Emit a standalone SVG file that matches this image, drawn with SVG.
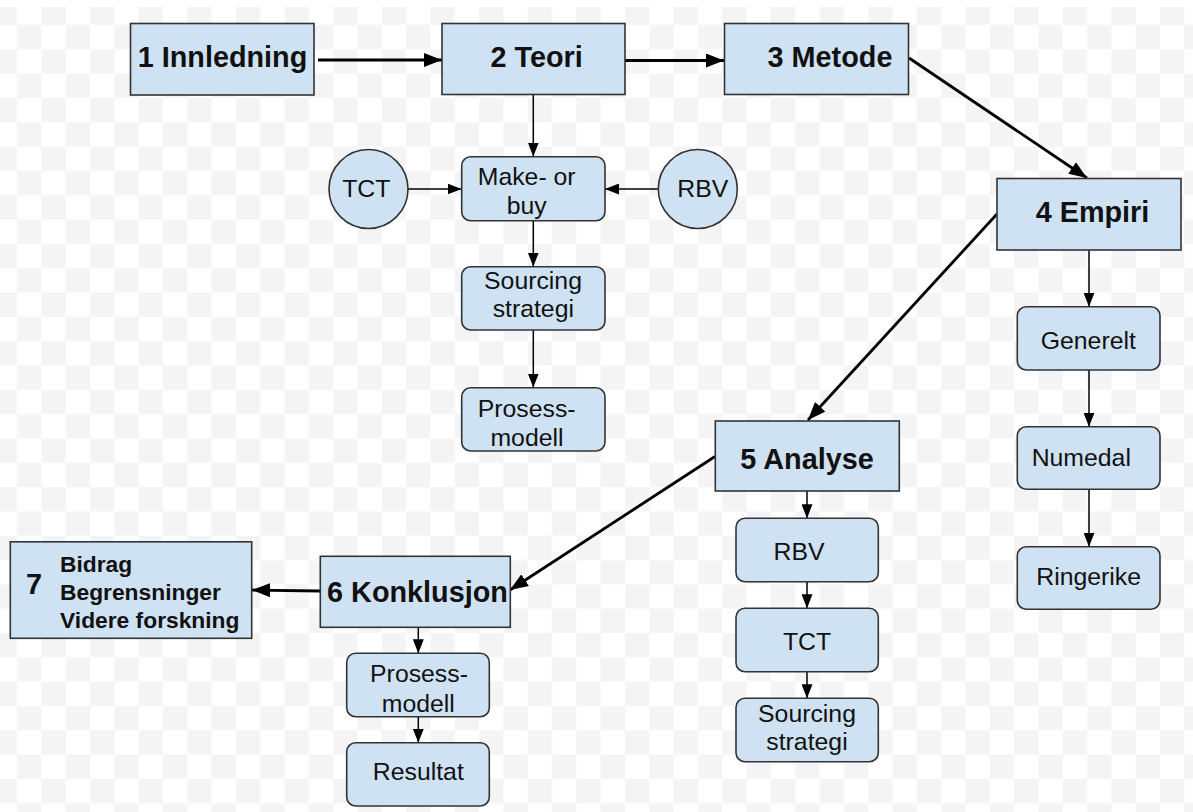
<svg xmlns="http://www.w3.org/2000/svg" width="1193" height="812" viewBox="0 0 1193 812">
  <defs>
    <pattern id="checker" x="-7.32" y="0.68" width="48.64" height="48.64" patternUnits="userSpaceOnUse">
      <rect width="48.64" height="48.64" fill="#ffffff"/>
      <rect width="24.32" height="24.32" fill="#f4f4f4"/>
      <rect x="24.32" y="24.32" width="24.32" height="24.32" fill="#f4f4f4"/>
    </pattern>
    <marker id="headBig" viewBox="0 0 18 14" refX="18" refY="7" markerWidth="18" markerHeight="14" markerUnits="userSpaceOnUse" orient="auto">
      <path d="M0,0 L18,7 L0,14 Z" fill="#000"/>
    </marker>
    <marker id="headSmall" viewBox="0 0 14 11" refX="14" refY="5.5" markerWidth="14" markerHeight="11" markerUnits="userSpaceOnUse" orient="auto">
      <path d="M0,0 L14,5.5 L0,11 Z" fill="#000"/>
    </marker>
  </defs>
  <style>
    .box { fill: #cfe2f3; stroke: #333; stroke-width: 1.6; }
    .sub { fill: #cfe2f3; stroke: #333; stroke-width: 1.6; }
    .main { font-family: "Liberation Sans", Arial, sans-serif; font-weight: bold; font-size: 28.8px; fill: #111; text-anchor: middle; }
    .lbl { font-family: "Liberation Sans", Arial, sans-serif; font-size: 24.8px; fill: #111; text-anchor: middle; }
    .b7 { font-family: "Liberation Sans", Arial, sans-serif; font-weight: bold; font-size: 22.8px; fill: #111; }
    .thick { stroke: #000; stroke-width: 2.8; fill: none; marker-end: url(#headBig); }
    .thin { stroke: #000; stroke-width: 1.5; fill: none; marker-end: url(#headSmall); }
  </style>

  <!-- background -->
  <rect width="1193" height="812" fill="url(#checker)"/>
  <rect width="1193" height="7" fill="#ffffff"/>

  <!-- connectors -->
  <g id="connectors">
    <line class="thick" x1="318" y1="60" x2="442" y2="60"/>
    <line class="thick" x1="624" y1="60.5" x2="724" y2="60.5"/>
    <line class="thick" x1="909" y1="58" x2="1087" y2="178"/>
    <line class="thick" x1="997" y1="214" x2="808" y2="420"/>
    <line class="thick" x1="715" y1="456.5" x2="510" y2="590"/>
    <line class="thick" x1="320" y1="591" x2="252" y2="590"/>

    <line class="thin" x1="533.3" y1="94" x2="533.3" y2="156.5"/>
    <line class="thin" x1="408" y1="189" x2="461.5" y2="189"/>
    <line class="thin" x1="658" y1="189" x2="605" y2="189"/>
    <line class="thin" x1="533.3" y1="220.7" x2="533.3" y2="266.5"/>
    <line class="thin" x1="533.3" y1="330" x2="533.3" y2="387.5"/>

    <line class="thin" x1="1089" y1="250" x2="1089" y2="306.7"/>
    <line class="thin" x1="1089" y1="370" x2="1089" y2="426.7"/>
    <line class="thin" x1="1089" y1="489.3" x2="1089" y2="546.7"/>

    <line class="thin" x1="807" y1="491" x2="807" y2="518.3"/>
    <line class="thin" x1="807" y1="581.7" x2="807" y2="608.3"/>
    <line class="thin" x1="807" y1="671.7" x2="807" y2="698.3"/>

    <line class="thin" x1="418.3" y1="627.3" x2="418.3" y2="653.3"/>
    <line class="thin" x1="418.3" y1="716.7" x2="418.3" y2="742.7"/>
  </g>

  <!-- chapter nodes -->
  <g id="innledning">
    <rect class="box" x="130.5" y="23.5" width="183.5" height="71.5"/>
    <text class="main" x="222.5" y="67">1 Innledning</text>
  </g>
  <g id="teori">
    <rect class="box" x="442" y="23.5" width="183" height="71"/>
    <text class="main" x="536.7" y="67">2 Teori</text>
  </g>
  <g id="metode">
    <rect class="box" x="724.5" y="23.5" width="184" height="71"/>
    <text class="main" x="830" y="67">3 Metode</text>
  </g>
  <g id="empiri">
    <rect class="box" x="997" y="178.5" width="184" height="71.5"/>
    <text class="main" x="1092.5" y="222">4 Empiri</text>
  </g>
  <g id="analyse">
    <rect class="box" x="715.3" y="421" width="184" height="70"/>
    <text class="main" x="807" y="468.5">5 Analyse</text>
  </g>
  <g id="konklusjon">
    <rect class="box" x="320.3" y="556.3" width="190" height="71"/>
    <text class="main" x="417.5" y="602">6 Konklusjon</text>
  </g>
  <g id="bidrag">
    <rect class="box" x="10.3" y="541.8" width="241.4" height="96.5"/>
    <text class="main" x="34" y="593.5">7</text>
    <text class="b7" x="60" y="572">Bidrag</text>
    <text class="b7" x="60" y="600">Begrensninger</text>
    <text class="b7" x="60" y="628.3">Videre forskning</text>
  </g>

  <!-- theory sub-nodes -->
  <g id="tct-circle">
    <circle class="sub" cx="368.5" cy="189" r="39.5"/>
    <text class="lbl" x="366.3" y="197">TCT</text>
  </g>
  <g id="rbv-circle">
    <circle class="sub" cx="697.8" cy="189" r="39.5"/>
    <text class="lbl" x="702.8" y="197">RBV</text>
  </g>
  <g id="make-or-buy">
    <rect class="sub" x="461.7" y="156.7" width="143.3" height="64" rx="9"/>
    <text class="lbl" x="526.7" y="185">Make- or</text>
    <text class="lbl" x="526.7" y="214">buy</text>
  </g>
  <g id="sourcing-teori">
    <rect class="sub" x="461.7" y="266.7" width="143.3" height="63.3" rx="9"/>
    <text class="lbl" x="533" y="288.5">Sourcing</text>
    <text class="lbl" x="533.3" y="317">strategi</text>
  </g>
  <g id="prosess-teori">
    <rect class="sub" x="461.7" y="387.7" width="143.3" height="63.3" rx="9"/>
    <text class="lbl" x="526.7" y="417">Prosess-</text>
    <text class="lbl" x="527" y="446">modell</text>
  </g>

  <!-- empirical sub-nodes -->
  <g id="generelt">
    <rect class="sub" x="1017.3" y="306.7" width="142.7" height="63.3" rx="9"/>
    <text class="lbl" x="1088.3" y="348.5">Generelt</text>
  </g>
  <g id="numedal">
    <rect class="sub" x="1017.3" y="426.7" width="142.7" height="62.6" rx="9"/>
    <text class="lbl" x="1081.3" y="466">Numedal</text>
  </g>
  <g id="ringerike">
    <rect class="sub" x="1017.3" y="546.7" width="142.7" height="62.6" rx="9"/>
    <text class="lbl" x="1088.7" y="584.5">Ringerike</text>
  </g>

  <!-- analysis sub-nodes -->
  <g id="rbv-analyse">
    <rect class="sub" x="736" y="518.3" width="142.3" height="63.4" rx="9"/>
    <text class="lbl" x="799" y="560">RBV</text>
  </g>
  <g id="tct-analyse">
    <rect class="sub" x="736" y="608.3" width="142.3" height="63.4" rx="9"/>
    <text class="lbl" x="807" y="650">TCT</text>
  </g>
  <g id="sourcing-analyse">
    <rect class="sub" x="736" y="698.3" width="142.3" height="63.4" rx="9"/>
    <text class="lbl" x="807" y="722">Sourcing</text>
    <text class="lbl" x="807" y="750">strategi</text>
  </g>

  <!-- conclusion sub-nodes -->
  <g id="prosess-konklusjon">
    <rect class="sub" x="346.7" y="653.3" width="142.6" height="63.4" rx="9"/>
    <text class="lbl" x="419" y="682">Prosess-</text>
    <text class="lbl" x="418.3" y="712">modell</text>
  </g>
  <g id="resultat">
    <rect class="sub" x="346.7" y="742.7" width="142.6" height="63.3" rx="9"/>
    <text class="lbl" x="418.3" y="780">Resultat</text>
  </g>
</svg>
